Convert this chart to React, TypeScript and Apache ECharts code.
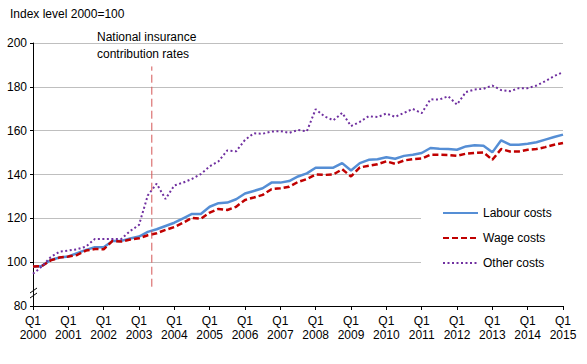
import React, { useEffect, useRef } from "react";
import * as echarts from "echarts";

const years = [2000, 2001, 2002, 2003, 2004, 2005, 2006, 2007, 2008, 2009, 2010, 2011, 2012, 2013, 2014, 2015];
const quarters: string[] = [];
years.forEach((y) => {
  ["Q1", "Q2", "Q3", "Q4"].forEach((q) => {
    if (y < 2015 || q === "Q1") quarters.push(q + " " + y);
  });
});

const labourCosts = [
  97.9, 98.3, 101, 102.1, 102.6, 104.1, 105.6, 106.8, 106.8, 109.7, 109.7, 110.8, 111.7, 113.8, 115, 116.5,
  118, 120, 122, 122, 125.3, 126.9, 127.2, 128.7, 131.3, 132.5, 133.7, 136.3, 136.3, 137, 139.1, 140.5,
  143.1, 143.1, 143.1, 145.2, 141.8, 145.2, 146.7, 147, 147.9, 147.2, 148.5, 149, 149.8, 152.1,
  151.8, 151.6, 151.3, 152.8, 153.3, 153.1, 150.1, 155.6, 153.6, 153.6, 154, 154.7, 155.9, 157.1, 158.2,
];
const wageCosts = [
  98, 98.2, 100.8, 102.1, 102.6, 103.3, 105.3, 106, 105.9, 109.7, 109.4, 110.3, 110.9, 112.3, 113.2, 114.7,
  116, 118, 120.2, 119.8, 122.6, 124.3, 123.8, 125.3, 128.4, 129.5, 130.7, 133.3, 133.7, 134.4, 136.6, 137.9,
  140, 139.8, 140, 142.4, 139.1, 143.2, 144, 144.7, 146, 144.9, 146.4, 147, 147.3, 149,
  149, 148.9, 148.5, 149.5, 149.8, 150.1, 146.7, 151.6, 150.5, 150.5, 151.3, 151.6, 152.5, 153.6, 154.4,
];
const otherCosts = [
  94.7, 98, 102.3, 104.8, 105.3, 105.9, 107.1, 110.6, 110.6, 110.6, 110.6, 114.2, 117, 130.5, 135.8, 128.8,
  135, 136.3, 138, 140.2, 143.7, 146, 151, 150.6, 155.8, 158.8, 158.6, 159.6, 159.8, 159, 160.3, 159.7,
  169.8, 166.5, 164.7, 168.1, 162.1, 164, 166.6, 166.2, 167.8, 166.3, 168.1, 169.9, 168, 174.3,
  174.2, 175.7, 171.9, 177.6, 178.8, 179.1, 180.6, 178.5, 178, 179.4, 179.4, 180.6, 182.6, 184.9, 186.7,
];
const niMarker = [
  [13.45, 88.8],
  [13.45, 189.3],
];

const FONT = "Liberation Sans";

export default function App() {
  const ref = useRef<HTMLDivElement>(null);
  useEffect(() => {
    document.body.style.margin = "0";
    if (!ref.current) return;
    const chart = echarts.init(ref.current, undefined, { renderer: "svg" });
    chart.setOption({
      animation: false,
      textStyle: { fontFamily: FONT },
      grid: { left: 33, right: 24, top: 43, bottom: 58, containLabel: false },
      legend: {
        data: ["Labour costs", "Wage costs", "Other costs"],
        orient: "vertical",
        left: 421,
        top: 197,
        padding: [10, 25, 8, 21],
        backgroundColor: "#ffffff",
        itemWidth: 35,
        itemHeight: 14,
        itemGap: 13,
        itemStyle: { opacity: 0 },
        textStyle: { fontFamily: FONT, fontSize: 12, color: "#000" },
      },
      xAxis: [
        {
          type: "category",
          data: quarters,
          boundaryGap: false,
          axisLine: { lineStyle: { color: "#000", width: 1 } },
          axisTick: { interval: 3, length: 4, lineStyle: { color: "#000" } },
          axisLabel: {
            interval: 3,
            color: "#000",
            fontSize: 12,
            fontFamily: FONT,
            lineHeight: 14,
            margin: 8,
            formatter: (v: string) => v.replace(" ", "\n"),
          },
          splitLine: { show: false },
        },
        { type: "value", min: 0, max: 60, show: false },
      ],
      yAxis: {
        type: "value",
        min: 80,
        max: 200,
        interval: 20,
        axisLine: { show: true, lineStyle: { color: "#000", width: 1 } },
        axisTick: { show: true, length: 3, lineStyle: { color: "#000" } },
        axisLabel: { color: "#000", fontSize: 12, fontFamily: FONT, margin: 6 },
        splitLine: { lineStyle: { color: "#bfbfbf", width: 1 } },
      },
      series: [
        {
          name: "Labour costs",
          type: "line",
          data: labourCosts,
          symbol: "none",
          lineStyle: { color: "#558ed5", width: 2.5 },
          itemStyle: { color: "#558ed5" },
        },
        {
          name: "Wage costs",
          type: "line",
          data: wageCosts,
          symbol: "none",
          lineStyle: { color: "#c00000", width: 2.5, type: [6, 3] },
          itemStyle: { color: "#c00000" },
        },
        {
          name: "Other costs",
          type: "line",
          data: otherCosts,
          symbol: "none",
          lineStyle: { color: "#7030a0", width: 2, type: [2, 2.5] },
          itemStyle: { color: "#7030a0" },
        },
        {
          name: "NI",
          type: "line",
          xAxisIndex: 1,
          data: niMarker,
          symbol: "none",
          silent: true,
          lineStyle: { color: "#d45656", width: 1, type: [8, 4] },
        },
      ],
      graphic: [
        {
          type: "text",
          x: 10,
          y: 8,
          style: { text: "Index level 2000=100", fontSize: 12, fontFamily: FONT, fill: "#000", align: "left", verticalAlign: "top" },
        },
        {
          type: "text",
          x: 97,
          y: 28,
          style: {
            text: "National insurance\ncontribution rates",
            fontSize: 12,
            fontFamily: FONT,
            lineHeight: 17,
            fill: "#000",
            align: "left",
            verticalAlign: "top",
          },
        },
        {
          type: "rect",
          shape: { x: 31, y: 289, width: 5, height: 7 },
          style: { fill: "#fff" },
        },
        {
          type: "line",
          shape: { x1: 30, y1: 293, x2: 37, y2: 288 },
          style: { stroke: "#000", lineWidth: 1 },
        },
        {
          type: "line",
          shape: { x1: 30, y1: 298, x2: 37, y2: 293 },
          style: { stroke: "#000", lineWidth: 1 },
        },
      ],
    });
    return () => chart.dispose();
  }, []);
  return <div ref={ref} style={{ width: 587, height: 364 }} />;
}
